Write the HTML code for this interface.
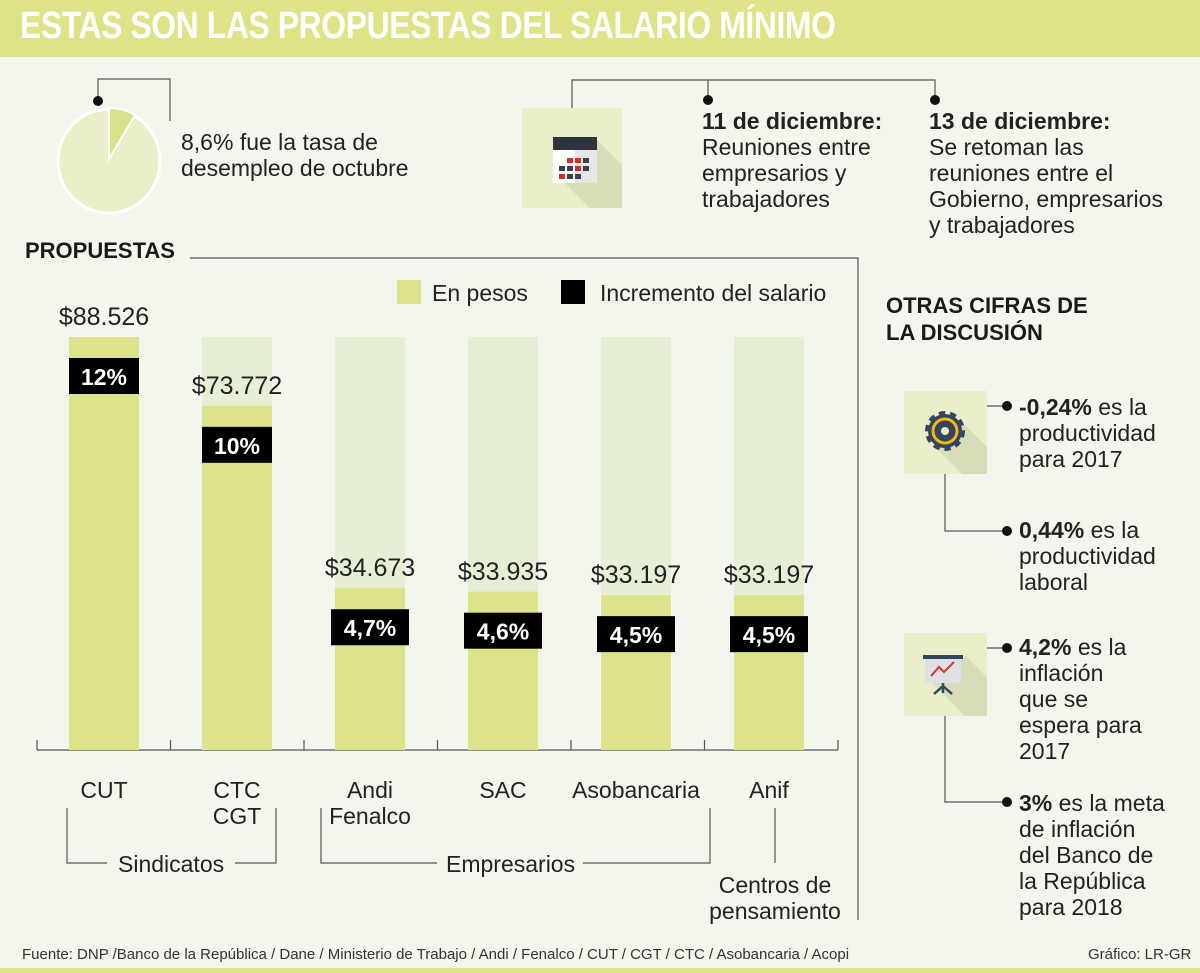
<!DOCTYPE html>
<html><head><meta charset="utf-8"><style>
body{margin:0;width:1200px;height:973px;background:#f2f6ec;font-family:"Liberation Sans",sans-serif;color:#1a1a1a;position:relative;overflow:hidden}
.a{position:absolute}
.t{font-size:23px;line-height:26px;color:#222}
b{font-weight:bold}
</style></head><body>
<div class="a" style="left:0;top:0;width:1200px;height:57px;background:#dde386"></div>
<div class="a" style="left:20px;top:5px;font-size:38px;font-weight:bold;color:#fff;letter-spacing:-0.5px;transform:scaleX(0.84);transform-origin:left;white-space:nowrap">ESTAS SON LAS PROPUESTAS DEL SALARIO MÍNIMO</div>
<svg class="a" style="left:0;top:0" width="1200" height="973">
 <g>
  <ellipse cx="109" cy="161" rx="51" ry="52" fill="#eaefc9" stroke="#fff" stroke-width="3"/>
  <path d="M109,159 L109,108 A51,52 0 0 1 135,115 Z" fill="#d8e08a" stroke="#fff" stroke-width="2"/>
  <polyline points="98,100 98,79 170,79 170,121" fill="none" stroke="#555" stroke-width="1.2"/>
  <circle cx="98" cy="101" r="5" fill="#111"/>
 </g>
 <g>
  <rect x="522" y="108" width="100" height="100" fill="#eaefc9"/>
  <polygon points="597,140 622,165 622,208 590,208 553,171 597,171" fill="#d8dcb8"/>
  <rect x="553" y="137" width="44" height="46" fill="#fff"/>
  <rect x="553" y="137" width="44" height="13" fill="#2e3340"/>
  <rect x="575" y="150" width="22" height="33" fill="#e6e6e6"/>
  <g fill="#3a4152"><rect x="559" y="166" width="6" height="5"/><rect x="567" y="166" width="6" height="5"/><rect x="575" y="174" width="6" height="5"/><rect x="567" y="174" width="6" height="5"/><rect x="583" y="166" width="6" height="5"/><rect x="583" y="158" width="6" height="5"/></g>
  <g fill="#e02a2a"><rect x="567" y="158" width="6" height="5"/><rect x="575" y="158" width="6" height="5"/><rect x="575" y="166" width="6" height="5"/><rect x="559" y="174" width="6" height="5"/></g>
  <polyline points="572,108 572,80 935,80 935,98" fill="none" stroke="#555" stroke-width="1.2"/>
  <line x1="708" y1="80" x2="708" y2="98" stroke="#555" stroke-width="1.2"/>
  <circle cx="708" cy="100" r="5" fill="#111"/><circle cx="935" cy="100" r="5" fill="#111"/>
 </g>
 <g fill="none" stroke="#555" stroke-width="1.2">
  <polyline points="190,258 858,258 858,920"/>
  <line x1="37" y1="750" x2="838" y2="750"/>
  <polyline points="67,808 67,863 107,863"/><polyline points="235,863 276,863 276,808"/>
  <polyline points="321,808 321,863 437,863"/><polyline points="583,863 710,863 710,808"/>
  <polyline points="775,808 775,863"/>
 </g>
 <g id="ticks" stroke="#555" stroke-width="1.2"></g>
 <g id="bars"></g>
 <g>
  <rect x="904" y="391" width="83" height="83" fill="#eaefc9"/>
  <polygon points="960,420 987,447 987,474 962,474 935,447" fill="#d8dcb8"/>
  <circle cx="945" cy="431" r="17" fill="#34455e" stroke="#34455e" stroke-width="6" stroke-dasharray="6 4.6"/>
  <circle cx="945" cy="431" r="12" fill="none" stroke="#f3b716" stroke-width="3"/>
  <circle cx="945" cy="431" r="4" fill="#eaefc9"/>
  <line x1="987" y1="406" x2="1005" y2="406" stroke="#555" stroke-width="1.2"/>
  <polyline points="945,474 945,531 1005,531" fill="none" stroke="#555" stroke-width="1.2"/>
  <circle cx="1007" cy="406" r="5" fill="#111"/><circle cx="1007" cy="531" r="5" fill="#111"/>
 </g>
 <g>
  <rect x="904" y="633" width="83" height="83" fill="#eaefc9"/>
  <polygon points="966,656 987,677 987,716 965,716 930,681" fill="#d8dcb8"/>
  <rect x="925" y="658" width="36" height="25" fill="#dde1e6"/>
  <rect x="923" y="655" width="40" height="4" fill="#34455e"/>
  <polyline points="931,676 939,667 944,672 954,662" fill="none" stroke="#d93030" stroke-width="2"/>
  <path d="M943,683 L943,693 M943,686 L934,694 M943,686 L952,694" stroke="#34455e" stroke-width="2.5"/>
  <line x1="987" y1="648" x2="1005" y2="648" stroke="#555" stroke-width="1.2"/>
  <polyline points="945,716 945,802 1005,802" fill="none" stroke="#555" stroke-width="1.2"/>
  <circle cx="1007" cy="648" r="5" fill="#111"/><circle cx="1007" cy="802" r="5" fill="#111"/>
 </g>
</svg>
<div class="a t" style="left:181px;top:129px">8,6% fue la tasa de<br>desempleo de octubre</div>
<div class="a t" style="left:702px;top:108px"><b>11 de diciembre:</b><br>Reuniones entre<br>empresarios y<br>trabajadores</div>
<div class="a t" style="left:929px;top:108px"><b>13 de diciembre:</b><br>Se retoman las<br>reuniones entre el<br>Gobierno, empresarios<br>y trabajadores</div>
<div class="a" style="left:25px;top:238px;font-size:22px;font-weight:bold">PROPUESTAS</div>
<div class="a" style="left:397px;top:280px;width:24px;height:24px;background:#dde38a"></div>
<div class="a t" style="left:432px;top:280px">En pesos</div>
<div class="a" style="left:561px;top:280px;width:24px;height:24px;background:#000"></div>
<div class="a t" style="left:600px;top:280px">Incremento del salario</div>
<div id="labels"></div>
<div class="a t" style="left:118px;top:851px">Sindicatos</div>
<div class="a t" style="left:446px;top:851px">Empresarios</div>
<div class="a t" style="left:690px;top:872px;width:170px;text-align:center">Centros de<br>pensamiento</div>
<div class="a" style="left:886px;top:292px;font-size:22px;font-weight:bold;line-height:27px">OTRAS CIFRAS DE<br>LA DISCUSIÓN</div>
<div class="a t" style="left:1019px;top:394px"><b>-0,24%</b> es la<br>productividad<br>para 2017</div>
<div class="a t" style="left:1019px;top:517px"><b>0,44%</b> es la<br>productividad<br>laboral</div>
<div class="a t" style="left:1019px;top:634px"><b>4,2%</b> es la<br>inflación<br>que se<br>espera para<br>2017</div>
<div class="a t" style="left:1019px;top:790px"><b>3%</b> es la meta<br>de inflación<br>del Banco de<br>la República<br>para 2018</div>
<div class="a" style="left:22px;top:946px;font-size:15px;color:#333">Fuente: DNP /Banco de la República / Dane / Ministerio de Trabajo / Andi / Fenalco / CUT / CGT / CTC / Asobancaria / Acopi</div>
<div class="a" style="left:1088px;top:946px;font-size:15px;color:#333">Gráfico: LR-GR</div>
<div class="a" style="left:0;top:968px;width:1200px;height:5px;background:#dde386"></div>
<script>
const categories=["CUT","CTC\nCGT","Andi\nFenalco","SAC","Asobancaria","Anif"];
const pesos=[88526,73772,34673,33935,33197,33197];
const pesoLabels=["$88.526","$73.772","$34.673","$33.935","$33.197","$33.197"];
const increments=["12%","10%","4,7%","4,6%","4,5%","4,5%"];
const NS="http://www.w3.org/2000/svg";
const maxV=Math.max(...pesos),base=750,H=413,x0=69,step=133,bw=70;
const y=v=>base-v/maxV*H;
const xb=i=>x0+i*step;
const g=document.getElementById('bars'),L=document.getElementById('labels'),tk=document.getElementById('ticks');
for(let i=0;i<=categories.length;i++){const l=document.createElementNS(NS,'line');const x=i==categories.length?838:37+i*133.5;l.setAttribute('x1',x);l.setAttribute('x2',x);l.setAttribute('y1',740);l.setAttribute('y2',750);


tk.appendChild(l);}
categories.forEach((c,i)=>{
 const bg=document.createElementNS(NS,'rect');bg.setAttribute('x',xb(i));bg.setAttribute('y',y(maxV));bg.setAttribute('width',bw);bg.setAttribute('height',H);bg.setAttribute('fill','#e6eed6');
 
 
 g.appendChild(bg);
 const r=document.createElementNS(NS,'rect');r.setAttribute('x',xb(i));r.setAttribute('y',y(pesos[i]));r.setAttribute('width',bw);r.setAttribute('height',base-y(pesos[i]));r.setAttribute('fill','#dde38a');
 
 
 g.appendChild(r);
 const bx=document.createElementNS(NS,'rect');const w=i<2?70:78;bx.setAttribute('x',xb(i)+35-w/2);bx.setAttribute('y',y(pesos[i])+21);bx.setAttribute('width',w);bx.setAttribute('height',36);bx.setAttribute('fill','#000');
 
 
 g.appendChild(bx);
 const tx=document.createElementNS(NS,'text');tx.setAttribute('x',xb(i)+35);tx.setAttribute('y',y(pesos[i])+48);tx.setAttribute('text-anchor','middle');tx.setAttribute('fill','#fff');tx.setAttribute('font-size','23');tx.setAttribute('font-weight','bold');tx.setAttribute('font-family','Liberation Sans');tx.textContent=increments[i];
 
 
 g.appendChild(tx);
 const v=document.createElement('div');v.className='a';v.style.cssText=`left:${xb(i)-30}px;top:${y(pesos[i])-34}px;width:130px;text-align:center;font-size:25px;color:#222`;v.textContent=pesoLabels[i];
 
 
 L.appendChild(v);
 const cl=document.createElement('div');cl.className='a t';cl.style.cssText=`left:${xb(i)-35}px;top:777px;width:140px;text-align:center`;cl.innerHTML=c.replace('\n','<br>');
 
 
 L.appendChild(cl);
});
</script>
</body></html>
